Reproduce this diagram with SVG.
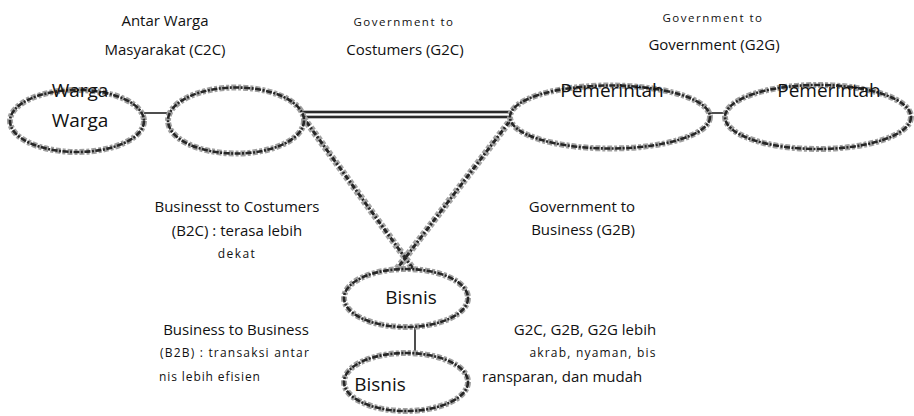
<svg xmlns="http://www.w3.org/2000/svg" width="914" height="416" viewBox="0 0 914 416">
<style>
  .bg { fill: #ffffff; }
  .fillw { fill: #ffffff; stroke: none; }
  .ring-under { fill: none; stroke: #a0a0a0; stroke-width: 6; stroke-dasharray: 5 2 3 2; }
  .ring { fill: none; stroke: #262626; stroke-width: 2.6; stroke-dasharray: 6 1.5 2 1.5; }
  .link { stroke: #222; stroke-width: 1.6; fill: none; }
  .dbl { stroke: #2a2a2a; stroke-width: 2; fill: none; }
  .dblg { stroke: #a5a5a5; stroke-width: 3.6; fill: none; }
  .hatch-under { stroke: #a5a5a5; stroke-width: 7; fill: none; stroke-dasharray: 4 2; }
  .hatch { stroke: #262626; stroke-width: 3; fill: none; stroke-dasharray: 5 2 2 2; }
  text { font-family: "Open Sans", "Liberation Sans", sans-serif; fill: #111; text-anchor: middle; }
  .lbl { font-size: 15px; }
  .sp { font-size: 11.5px; letter-spacing: 1.5px; }
  .sp2 { font-size: 12px; letter-spacing: 1.2px; }
  .node { font-size: 19px; }
</style>
<rect class="bg" x="0" y="0" width="914" height="416"/>

<g id="connectors">
  <line class="link" x1="144" y1="113" x2="170" y2="113"/>
  <line class="link" x1="708" y1="113" x2="728" y2="113"/>
  <line class="link" x1="415" y1="327" x2="415" y2="354"/>
  <line class="dblg" x1="300" y1="112" x2="515" y2="112"/>
  <line class="dblg" x1="300" y1="117" x2="515" y2="117"/>
  <line class="dbl" x1="300" y1="112" x2="515" y2="112"/>
  <line class="dbl" x1="300" y1="117" x2="515" y2="117"/>
  <line class="hatch-under" x1="300" y1="113" x2="414" y2="270"/>
  <line class="hatch-under" x1="516" y1="113" x2="396" y2="270"/>
  <line class="hatch" x1="300" y1="113" x2="414" y2="270"/>
  <line class="hatch" x1="516" y1="113" x2="396" y2="270"/>
</g>

<g id="node-warga">
  <ellipse class="fillw" cx="77" cy="121" rx="67" ry="31"/>
  <ellipse class="ring-under" cx="77" cy="121" rx="67" ry="31"/>
  <ellipse class="ring" cx="77" cy="121" rx="67" ry="31"/>
  <text class="node" x="80" y="97">Warga</text>
  <text class="node" x="80" y="127">Warga</text>
</g>

<g id="node-empty">
  <ellipse class="fillw" cx="236" cy="120.5" rx="68" ry="33"/>
  <ellipse class="ring-under" cx="236" cy="120.5" rx="68" ry="33"/>
  <ellipse class="ring" cx="236" cy="120.5" rx="68" ry="33"/>
</g>

<g id="node-pemerintah1">
  <ellipse class="fillw" cx="610" cy="117" rx="100" ry="31.5"/>
  <ellipse class="ring-under" cx="610" cy="117" rx="100" ry="31.5"/>
  <ellipse class="ring" cx="610" cy="117" rx="100" ry="31.5"/>
  <text class="node" x="612" y="97">Pemerintah</text>
</g>

<g id="node-pemerintah2">
  <ellipse class="fillw" cx="818" cy="117" rx="93" ry="32"/>
  <ellipse class="ring-under" cx="818" cy="117" rx="93" ry="32"/>
  <ellipse class="ring" cx="818" cy="117" rx="93" ry="32"/>
  <text class="node" x="829" y="97">Pemerintah</text>
</g>

<g id="node-bisnis1">
  <ellipse class="fillw" cx="406" cy="298" rx="62" ry="29"/>
  <ellipse class="ring-under" cx="406" cy="298" rx="62" ry="29"/>
  <ellipse class="ring" cx="406" cy="298" rx="62" ry="29"/>
  <text class="node" x="411" y="304">Bisnis</text>
</g>

<g id="node-bisnis2">
  <ellipse class="fillw" cx="406" cy="382" rx="62" ry="29"/>
  <ellipse class="ring-under" cx="406" cy="382" rx="62" ry="29"/>
  <ellipse class="ring" cx="406" cy="382" rx="62" ry="29"/>
  <text class="node" x="380" y="391">Bisnis</text>
</g>

<g id="labels">
  <text class="lbl" x="165" y="26">Antar Warga</text>
  <text class="lbl" x="165" y="55">Masyarakat (C2C)</text>
  <text class="sp" x="404" y="26">Government to</text>
  <text class="lbl" x="405" y="55">Costumers (G2C)</text>
  <text class="sp" x="713" y="22">Government to</text>
  <text class="lbl" x="714" y="50">Government (G2G)</text>
  <text class="lbl" x="237" y="212">Businesst to Costumers</text>
  <text class="lbl" x="237" y="236">(B2C) : terasa lebih</text>
  <text class="sp2" x="237" y="258" style="letter-spacing:1.4px">dekat</text>
  <text class="lbl" x="582" y="212">Government to</text>
  <text class="lbl" x="583" y="235">Business (G2B)</text>
  <text class="lbl" x="236" y="335">Business to Business</text>
  <text class="sp2" x="235" y="357">(B2B) : transaksi antar</text>
  <text class="sp2" x="159" y="381" style="text-anchor:start;letter-spacing:0.9px">nis lebih efisien</text>
  <text class="lbl" x="585" y="335">G2C, G2B, G2G lebih</text>
  <text class="sp2" x="593" y="357">akrab,  nyaman, bis</text>
  <text class="lbl" x="482" y="382" style="text-anchor:start">ransparan, dan  mudah</text>
</g>
</svg>
